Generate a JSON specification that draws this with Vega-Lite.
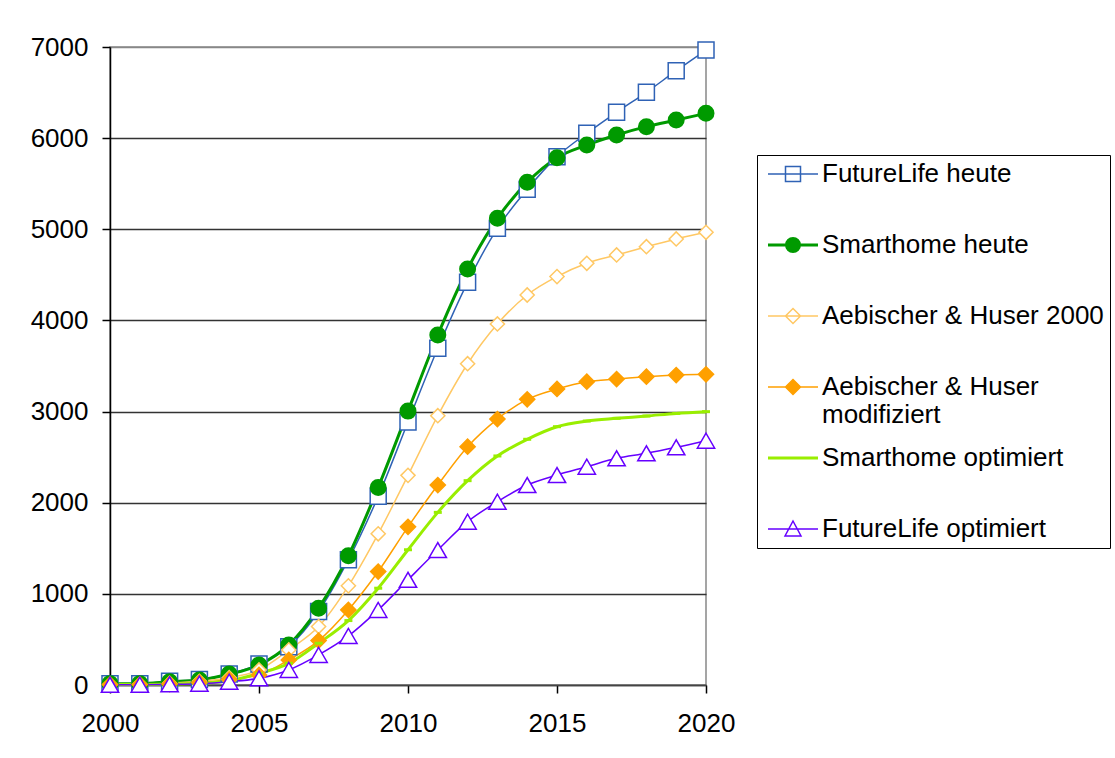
{
  "$schema": "https://vega.github.io/schema/vega-lite/v6.json",
  "width": 596,
  "height": 638,
  "autosize": {"type": "none"},
  "padding": {"left": 110, "top": 47, "right": 409, "bottom": 73},
  "background": "white",
  "config": {
    "font": "Liberation Sans",
    "view": {"stroke": "#888888", "strokeWidth": 1.5},
    "axis": {
      "domainColor": "#000000",
      "domainWidth": 1.5,
      "tickColor": "#000000",
      "tickWidth": 1.5,
      "tickSize": 8,
      "labelFont": "Liberation Sans",
      "labelFontSize": 26,
      "labelColor": "#000000",
      "title": null
    }
  },
  "data": {
    "values": [
      {"year": 2000, "series": "FutureLife heute", "value": 15},
      {"year": 2001, "series": "FutureLife heute", "value": 15},
      {"year": 2002, "series": "FutureLife heute", "value": 40},
      {"year": 2003, "series": "FutureLife heute", "value": 60},
      {"year": 2004, "series": "FutureLife heute", "value": 120},
      {"year": 2005, "series": "FutureLife heute", "value": 230},
      {"year": 2006, "series": "FutureLife heute", "value": 420},
      {"year": 2007, "series": "FutureLife heute", "value": 806},
      {"year": 2008, "series": "FutureLife heute", "value": 1374},
      {"year": 2009, "series": "FutureLife heute", "value": 2070},
      {"year": 2010, "series": "FutureLife heute", "value": 2885},
      {"year": 2011, "series": "FutureLife heute", "value": 3694},
      {"year": 2012, "series": "FutureLife heute", "value": 4418},
      {"year": 2013, "series": "FutureLife heute", "value": 5011},
      {"year": 2014, "series": "FutureLife heute", "value": 5438},
      {"year": 2015, "series": "FutureLife heute", "value": 5797},
      {"year": 2016, "series": "FutureLife heute", "value": 6053},
      {"year": 2017, "series": "FutureLife heute", "value": 6284},
      {"year": 2018, "series": "FutureLife heute", "value": 6503},
      {"year": 2019, "series": "FutureLife heute", "value": 6740},
      {"year": 2020, "series": "FutureLife heute", "value": 6967},
      {"year": 2000, "series": "Smarthome heute", "value": 15},
      {"year": 2001, "series": "Smarthome heute", "value": 15},
      {"year": 2002, "series": "Smarthome heute", "value": 35},
      {"year": 2003, "series": "Smarthome heute", "value": 55},
      {"year": 2004, "series": "Smarthome heute", "value": 120},
      {"year": 2005, "series": "Smarthome heute", "value": 220},
      {"year": 2006, "series": "Smarthome heute", "value": 440},
      {"year": 2007, "series": "Smarthome heute", "value": 843},
      {"year": 2008, "series": "Smarthome heute", "value": 1418},
      {"year": 2009, "series": "Smarthome heute", "value": 2168},
      {"year": 2010, "series": "Smarthome heute", "value": 3005},
      {"year": 2011, "series": "Smarthome heute", "value": 3840},
      {"year": 2012, "series": "Smarthome heute", "value": 4564},
      {"year": 2013, "series": "Smarthome heute", "value": 5120},
      {"year": 2014, "series": "Smarthome heute", "value": 5515},
      {"year": 2015, "series": "Smarthome heute", "value": 5786},
      {"year": 2016, "series": "Smarthome heute", "value": 5925},
      {"year": 2017, "series": "Smarthome heute", "value": 6035},
      {"year": 2018, "series": "Smarthome heute", "value": 6126},
      {"year": 2019, "series": "Smarthome heute", "value": 6199},
      {"year": 2020, "series": "Smarthome heute", "value": 6272},
      {"year": 2000, "series": "Aebischer & Huser 2000", "value": 5},
      {"year": 2001, "series": "Aebischer & Huser 2000", "value": 8},
      {"year": 2002, "series": "Aebischer & Huser 2000", "value": 20},
      {"year": 2003, "series": "Aebischer & Huser 2000", "value": 40},
      {"year": 2004, "series": "Aebischer & Huser 2000", "value": 80},
      {"year": 2005, "series": "Aebischer & Huser 2000", "value": 165},
      {"year": 2006, "series": "Aebischer & Huser 2000", "value": 385},
      {"year": 2007, "series": "Aebischer & Huser 2000", "value": 641},
      {"year": 2008, "series": "Aebischer & Huser 2000", "value": 1088},
      {"year": 2009, "series": "Aebischer & Huser 2000", "value": 1659},
      {"year": 2010, "series": "Aebischer & Huser 2000", "value": 2300},
      {"year": 2011, "series": "Aebischer & Huser 2000", "value": 2955},
      {"year": 2012, "series": "Aebischer & Huser 2000", "value": 3525},
      {"year": 2013, "series": "Aebischer & Huser 2000", "value": 3961},
      {"year": 2014, "series": "Aebischer & Huser 2000", "value": 4279},
      {"year": 2015, "series": "Aebischer & Huser 2000", "value": 4481},
      {"year": 2016, "series": "Aebischer & Huser 2000", "value": 4627},
      {"year": 2017, "series": "Aebischer & Huser 2000", "value": 4718},
      {"year": 2018, "series": "Aebischer & Huser 2000", "value": 4809},
      {"year": 2019, "series": "Aebischer & Huser 2000", "value": 4894},
      {"year": 2020, "series": "Aebischer & Huser 2000", "value": 4967},
      {"year": 2000, "series": "Aebischer & Huser modifiziert", "value": 5},
      {"year": 2001, "series": "Aebischer & Huser modifiziert", "value": 5},
      {"year": 2002, "series": "Aebischer & Huser modifiziert", "value": 10},
      {"year": 2003, "series": "Aebischer & Huser modifiziert", "value": 25},
      {"year": 2004, "series": "Aebischer & Huser modifiziert", "value": 60},
      {"year": 2005, "series": "Aebischer & Huser modifiziert", "value": 110},
      {"year": 2006, "series": "Aebischer & Huser modifiziert", "value": 275},
      {"year": 2007, "series": "Aebischer & Huser modifiziert", "value": 487},
      {"year": 2008, "series": "Aebischer & Huser modifiziert", "value": 824},
      {"year": 2009, "series": "Aebischer & Huser modifiziert", "value": 1245},
      {"year": 2010, "series": "Aebischer & Huser modifiziert", "value": 1735},
      {"year": 2011, "series": "Aebischer & Huser modifiziert", "value": 2194},
      {"year": 2012, "series": "Aebischer & Huser modifiziert", "value": 2615},
      {"year": 2013, "series": "Aebischer & Huser modifiziert", "value": 2918},
      {"year": 2014, "series": "Aebischer & Huser modifiziert", "value": 3134},
      {"year": 2015, "series": "Aebischer & Huser modifiziert", "value": 3248},
      {"year": 2016, "series": "Aebischer & Huser modifiziert", "value": 3328},
      {"year": 2017, "series": "Aebischer & Huser modifiziert", "value": 3357},
      {"year": 2018, "series": "Aebischer & Huser modifiziert", "value": 3383},
      {"year": 2019, "series": "Aebischer & Huser modifiziert", "value": 3401},
      {"year": 2020, "series": "Aebischer & Huser modifiziert", "value": 3409},
      {"year": 2000, "series": "Smarthome optimiert", "value": 5},
      {"year": 2001, "series": "Smarthome optimiert", "value": 5},
      {"year": 2002, "series": "Smarthome optimiert", "value": 10},
      {"year": 2003, "series": "Smarthome optimiert", "value": 20},
      {"year": 2004, "series": "Smarthome optimiert", "value": 45},
      {"year": 2005, "series": "Smarthome optimiert", "value": 128},
      {"year": 2006, "series": "Smarthome optimiert", "value": 238},
      {"year": 2007, "series": "Smarthome optimiert", "value": 458},
      {"year": 2008, "series": "Smarthome optimiert", "value": 707},
      {"year": 2009, "series": "Smarthome optimiert", "value": 1062},
      {"year": 2010, "series": "Smarthome optimiert", "value": 1484},
      {"year": 2011, "series": "Smarthome optimiert", "value": 1894},
      {"year": 2012, "series": "Smarthome optimiert", "value": 2242},
      {"year": 2013, "series": "Smarthome optimiert", "value": 2513},
      {"year": 2014, "series": "Smarthome optimiert", "value": 2696},
      {"year": 2015, "series": "Smarthome optimiert", "value": 2834},
      {"year": 2016, "series": "Smarthome optimiert", "value": 2896},
      {"year": 2017, "series": "Smarthome optimiert", "value": 2926},
      {"year": 2018, "series": "Smarthome optimiert", "value": 2951},
      {"year": 2019, "series": "Smarthome optimiert", "value": 2980},
      {"year": 2020, "series": "Smarthome optimiert", "value": 2999},
      {"year": 2000, "series": "FutureLife optimiert", "value": 2},
      {"year": 2001, "series": "FutureLife optimiert", "value": 3},
      {"year": 2002, "series": "FutureLife optimiert", "value": 8},
      {"year": 2003, "series": "FutureLife optimiert", "value": 15},
      {"year": 2004, "series": "FutureLife optimiert", "value": 37},
      {"year": 2005, "series": "FutureLife optimiert", "value": 73},
      {"year": 2006, "series": "FutureLife optimiert", "value": 165},
      {"year": 2007, "series": "FutureLife optimiert", "value": 330},
      {"year": 2008, "series": "FutureLife optimiert", "value": 538},
      {"year": 2009, "series": "FutureLife optimiert", "value": 824},
      {"year": 2010, "series": "FutureLife optimiert", "value": 1154},
      {"year": 2011, "series": "FutureLife optimiert", "value": 1481},
      {"year": 2012, "series": "FutureLife optimiert", "value": 1792},
      {"year": 2013, "series": "FutureLife optimiert", "value": 2011},
      {"year": 2014, "series": "FutureLife optimiert", "value": 2194},
      {"year": 2015, "series": "FutureLife optimiert", "value": 2304},
      {"year": 2016, "series": "FutureLife optimiert", "value": 2395},
      {"year": 2017, "series": "FutureLife optimiert", "value": 2487},
      {"year": 2018, "series": "FutureLife optimiert", "value": 2542},
      {"year": 2019, "series": "FutureLife optimiert", "value": 2608},
      {"year": 2020, "series": "FutureLife optimiert", "value": 2681}
    ]
  },
  "encoding": {
    "x": {
      "field": "year",
      "type": "quantitative",
      "scale": {"domain": [2000, 2020], "nice": false, "zero": false},
      "axis": {
        "values": [2000, 2005, 2010, 2015, 2020],
        "format": "d",
        "grid": false,
        "labelPadding": 17,
        "domainColor": "#444444",
        "labelFlush": false
      }
    },
    "y": {
      "field": "value",
      "type": "quantitative",
      "scale": {"domain": [0, 7000], "nice": false},
      "axis": {
        "values": [0, 1000, 2000, 3000, 4000, 5000, 6000, 7000],
        "format": "d",
        "grid": true,
        "gridColor": {"condition": {"test": "datum.value === 7000", "value": "#888888"}, "value": "#333333"},
        "gridWidth": 1.3,
        "labelPadding": 14,
        "labelFlush": false
      }
    }
  },
  "layer": [
    {
      "mark": {"type": "line", "interpolate": "monotone"},
      "encoding": {
        "color": {
          "field": "series",
          "type": "nominal",
          "scale": {
            "domain": ["FutureLife heute", "Smarthome heute", "Aebischer & Huser 2000", "Aebischer & Huser modifiziert", "Smarthome optimiert", "FutureLife optimiert"],
            "range": ["#2F62B5", "#009A00", "#FFC864", "#FFA000", "#99EE00", "#6600FF"]
          },
          "legend": {
            "title": null,
            "orient": "none",
            "legendX": 647,
            "legendY": 108,
            "strokeColor": "#000000",
            "fillColor": "#ffffff",
            "padding": 6,
            "symbolSize": 2500,
            "symbolStrokeWidth": 1.5,
            "symbolOffset": 17,
            "labelFont": "Liberation Sans",
            "labelFontSize": 26,
            "labelColor": "#000000",
            "labelLimit": 400,
            "labelOffset": 16,
            "rowPadding": 17,
            "gridAlign": "all",
            "labelExpr": "datum.label === 'Aebischer & Huser modifiziert' ? ['Aebischer & Huser', 'modifiziert'] : datum.label",
            "encode": {
              "symbols": {
                "update": {
                  "shape": {"signal": "datum.value === 'FutureLife heute' ? 'M-1,0H1M-0.3,-0.3H0.3V0.3H-0.3Z' : datum.value === 'Smarthome heute' ? 'M-1,0H1M0.26,0A0.26,0.26,0,1,1,-0.26,0A0.26,0.26,0,1,1,0.26,0Z' : (datum.value === 'Aebischer & Huser 2000' || datum.value === 'Aebischer & Huser modifiziert') ? 'M-1,0H1M0,-0.3L0.3,0L0,0.3L-0.3,0Z' : datum.value === 'FutureLife optimiert' ? 'M-1,0H1M0,-0.32L0.32,0.28H-0.32Z' : 'M-1,0H1'"},
                  "size": {"value": 2500},
                  "fill": {"signal": "datum.value === 'Smarthome heute' ? '#009A00' : datum.value === 'Aebischer & Huser modifiziert' ? '#FFA000' : '#ffffff'"},
                  "strokeWidth": {"signal": "(datum.value === 'Smarthome heute' || datum.value === 'Smarthome optimiert') ? 3 : 1.5"}
                }
              }
            }
          }
        },
        "strokeWidth": {
          "field": "series",
          "type": "nominal",
          "scale": {
            "type": "ordinal",
            "range": [1.5, 1.5, 1.5, 1.5, 3, 3]
          },
          "legend": null
        }
      }
    },
    {
      "mark": {"type": "point", "filled": true, "opacity": 1},
      "encoding": {
        "shape": {
          "field": "series",
          "type": "nominal",
          "scale": {
            "range": ["diamond", "diamond", "square", "triangle-up", "circle", "stroke"]
          },
          "legend": null
        },
        "fill": {
          "field": "series",
          "type": "nominal",
          "scale": {
            "range": ["#ffffff", "#FFA000", "#ffffff", "#ffffff", "#009A00", "#99EE00"]
          },
          "legend": null
        },
        "stroke": {
          "field": "series",
          "type": "nominal",
          "scale": {
            "range": ["#FFC864", "#FFA000", "#2F62B5", "#6600FF", "#009A00", "#99EE00"]
          },
          "legend": null
        },
        "size": {
          "field": "series",
          "type": "nominal",
          "scale": {
            "type": "ordinal",
            "range": [200, 230, 256, 300, 196, 64]
          },
          "legend": null
        },
        "strokeWidth": {
          "field": "series",
          "type": "nominal",
          "scale": {
            "type": "ordinal",
            "range": [1.5, 1.5, 1.5, 1.5, 3, 3]
          },
          "legend": null
        }
      }
    }
  ]
}
